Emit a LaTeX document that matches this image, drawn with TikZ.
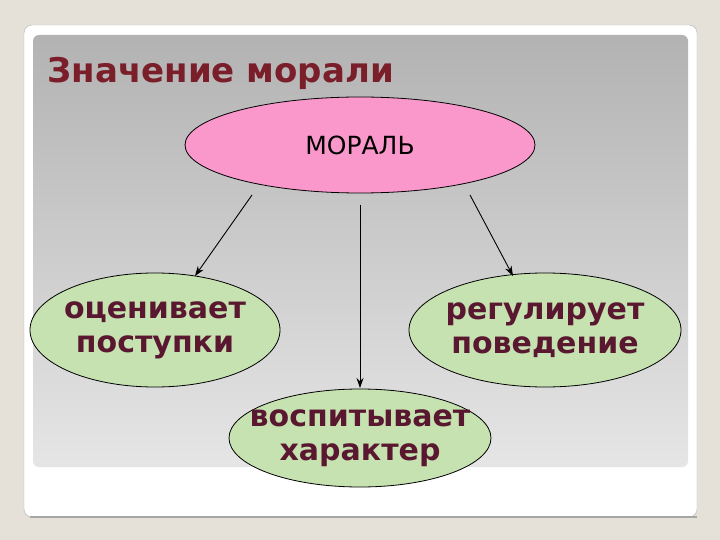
\documentclass[tikz,border=0pt]{standalone}
\usepackage{fontspec}
\setmainfont{DejaVu Sans}
\usetikzlibrary{shapes.geometric,arrows.meta}
\definecolor{bgc}{HTML}{E6E1D8}
\definecolor{titc}{HTML}{7A1E2A}
\definecolor{pinkc}{HTML}{FA98CC}
\definecolor{greenc}{HTML}{C6E2B0}
\definecolor{txtc}{HTML}{5A1830}
\tikzset{
 oval/.style={ellipse,draw=black,line width=0.8pt,inner sep=0pt},
 gov/.style={oval,fill=greenc,text=txtc,font=\bfseries\fontsize{30}{34}\selectfont,align=center,inner xsep=-22pt,inner ysep=-8pt},
 arr/.style={-{Stealth[length=10pt,width=7pt]},line width=0.9pt}
}
\begin{document}
\begin{tikzpicture}[x=1pt,y=-1pt]
\useasboundingbox (0,0) rectangle (720,540);
\fill[bgc] (0,0) rectangle (720,540);
\draw[gray!60,fill=white,rounded corners=8] (24,25) rectangle (697,517);
\draw[gray!70,line width=1.5pt] (30,517) -- (697,517);
\shade[top color=gray!60,bottom color=gray!20,rounded corners=6] (33,35) rectangle (688,467);
\node (title) [anchor=west,text=titc,font=\bfseries\fontsize{34}{38}\selectfont] at (44,73) {Значение морали};
\node (moral) [oval,fill=pinkc,minimum width=350,minimum height=96,font=\fontsize{25}{29}\selectfont] at (360,145) {МОРАЛЬ};
\node (l) [gov,minimum width=250,minimum height=114] at (155,330) {оценивает\\поступки};
\node (r) [gov,minimum width=272,minimum height=114] at (545,330) {регулирует\\поведение};
\node (b) [gov,minimum width=262,minimum height=98] at (360,438) {воспитывает\\характер};
\coordinate (a1) at (252,195); \coordinate (a2) at (360,205); \coordinate (a3) at (470,195);
\coordinate (e1) at (195,276); \coordinate (e2) at (360,388); \coordinate (e3) at (513,276);
\draw[arr] (a1) -- (e1);
\draw[arr] (a2) -- (e2);
\draw[arr] (a3) -- (e3);
\end{tikzpicture}
\end{document}
